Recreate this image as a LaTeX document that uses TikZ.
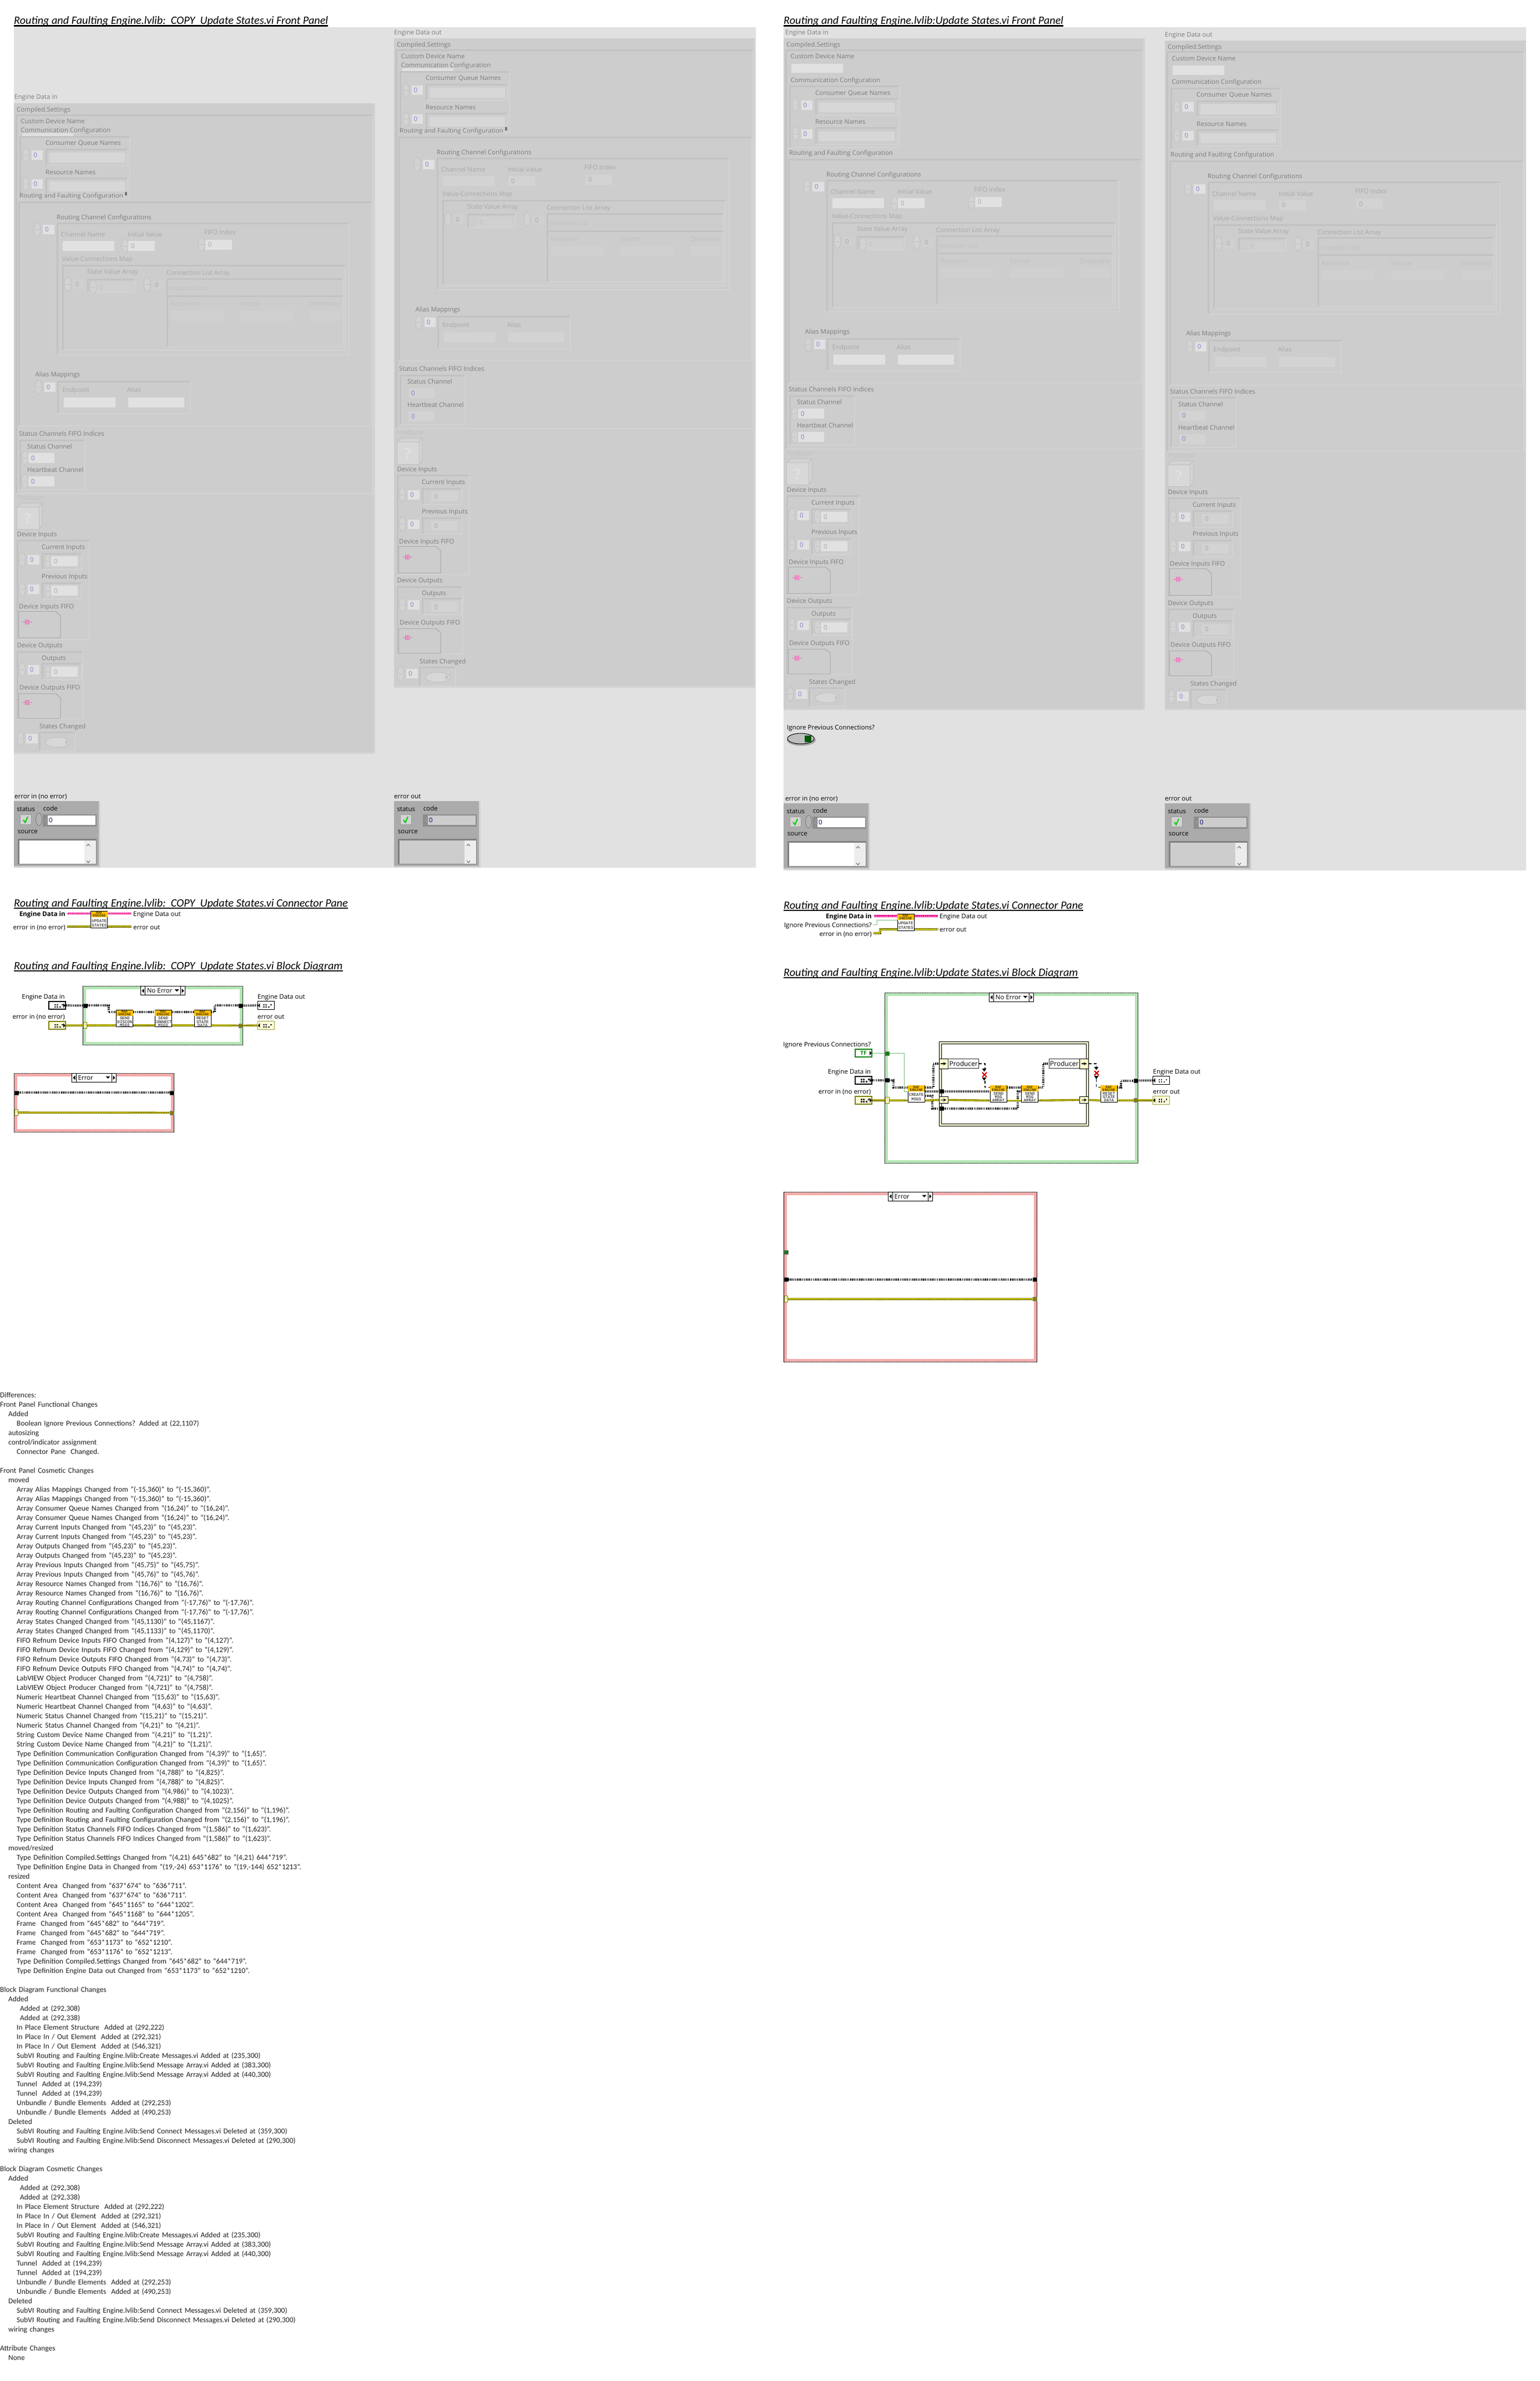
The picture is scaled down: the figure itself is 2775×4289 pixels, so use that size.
\documentclass[tikz,border=0pt]{standalone}
\usepackage{fontspec}
\setmainfont{Carlito}
\newfontfamily\lvfont{Open Sans}
\newfontfamily\pixfont{Liberation Mono}
\usetikzlibrary{patterns}
\definecolor{panelbg}{HTML}{E1E1E1}
\definecolor{fpface}{HTML}{CDCDCD}
\definecolor{fpdarkc}{HTML}{C2C2C2}
\definecolor{fplitec}{HTML}{D3D3D3}
\definecolor{fpdeepc}{HTML}{D0D0D0}
\definecolor{fptexta}{HTML}{7C7C7C}
\definecolor{fptextb}{HTML}{A8A8A8}
\definecolor{fptextc}{HTML}{C0C0C0}
\definecolor{errhead}{HTML}{ABABAB}
\definecolor{casegreen}{HTML}{8CDC8C}
\definecolor{casered}{HTML}{F08080}
\definecolor{ipyellow}{HTML}{FFFFCC}
\definecolor{bandgold}{HTML}{FFC000}
\definecolor{lvolive}{HTML}{808000}
\definecolor{lvgreen}{HTML}{008000}
\colorlet{valbox}{white}
\tikzstyle{fplab} = [font=\lvfont\fontsize{11.5}{14}\selectfont, text=fptexta, inner sep=0pt, anchor=base west]
\tikzstyle{fplabb} = [fplab, text=fptextb]
\tikzstyle{fplabc} = [fplab, text=fptextc]
\tikzstyle{fpidx} = [fplab, text=fptexta!60!blue!70!white]
\tikzstyle{lvleft} = [fplab, text=black]
\tikzstyle{lvright} = [fplab, text=black, anchor=base east]
\tikzstyle{pagehead} = [font=\fontsize{20.2}{22}\selectfont\itshape, inner sep=0pt, anchor=base west]
\tikzstyle{headrule} = [black, line width=2.4pt]
\tikzstyle{fpdark} = [fpdarkc, line width=3pt]
\tikzstyle{fplite} = [fplitec, line width=2pt]
\tikzstyle{fpspin} = [draw=fpdarkc, fill=fplitec, line width=1pt]
\tikzstyle{subvibox} = [rectangle, draw=black, fill=white, line width=1pt, minimum width=30pt, minimum height=30pt, inner sep=0pt]
\tikzstyle{subviband} = [rectangle, fill=bandgold, minimum width=30pt, minimum height=10.6pt, inner sep=0pt, align=center, font=\pixfont\fontsize{6.4}{5}\selectfont]
\tikzstyle{subvitxt} = [inner sep=0pt, align=center, font=\pixfont\fontsize{7.4}{6.3}\selectfont]
\tikzstyle{clwire} = [black, line width=4pt, dash pattern=on 1.6pt off 1.6pt]
\tikzstyle{errwire} = [lvolive, line width=3.6pt, postaction={draw=yellow, line width=2pt}, postaction={draw=black, line width=1pt, dash pattern=on 1.5pt off 1.5pt}]
\tikzstyle{magwire} = [magenta, line width=3.6pt, postaction={draw=white, line width=1pt, dash pattern=on 2pt off 1.4pt}]
\tikzstyle{boolwire} = [lvgreen, line width=1pt, densely dotted]
\tikzstyle{brokenwire} = [black, line width=1.6pt, dash pattern=on 5pt off 4pt]
\tikzstyle{tunblack} = [rectangle, draw=black!70, fill=black, minimum size=7pt, inner sep=0pt]
\tikzstyle{tunolive} = [rectangle, draw=black!50, fill=lvolive, minimum size=7pt, inner sep=0pt]
\tikzstyle{tungreen} = [rectangle, draw=black!50, fill=lvgreen, minimum size=7pt, inner sep=0pt]
\tikzstyle{casequery} = [rectangle, draw=lvolive, fill=ipyellow, minimum width=6.4pt, minimum height=11pt, inner sep=0pt, text=lvolive, font=\lvfont\fontsize{7}{8}\selectfont]
\tikzstyle{termctl} = [rectangle, draw=black, fill=white, line width=2pt, minimum width=30pt, minimum height=13.5pt, inner sep=0pt]
\tikzstyle{termind} = [rectangle, draw=black, fill=white, line width=1pt, minimum width=30.5pt, minimum height=14.5pt, inner sep=0pt]
\tikzstyle{termerrc} = [termctl, draw=lvolive, fill=ipyellow!70!white]
\tikzstyle{termerri} = [termind, draw=lvolive!75!white, fill=ipyellow!70!white]
\tikzstyle{termbool} = [termctl, draw=lvgreen, text=lvgreen, font=\lvfont\bfseries\fontsize{10}{11}\selectfont]
\tikzstyle{ipelem} = [rectangle, draw=black, fill=ipyellow, line width=.8pt, minimum width=15.5pt, inner sep=0pt]
\tikzstyle{prodbox} = [rectangle, draw=black!80, fill=white, line width=.8pt, minimum height=17.5pt, inner sep=0pt, font=\lvfont\fontsize{12}{14}\selectfont]
\newif\ifctrl
\newif\ifoldpanel
\newcounter{fpno}
\newcommand{\fplab}[4][fplab]{\stepcounter{fpno}\node[#1] (fp\arabic{fpno}) at (#2,#3+4) {#4};}
\newcommand{\fpframe}[4]{%
  \draw[fpdark] (#1,#4) -- (#1,#2) -- (#3,#2);
  \draw[fplite] (#3,#2) -- (#3,#4) -- (#1,#4);}
\newcommand{\fpbox}[4]{\fill[valbox] (#1,#2) rectangle (#3,#4);}
\newcommand{\lvspin}[2]{%
  \draw[fpspin] (#1,#2) ellipse (6 and 12.5);
  \draw[fpdarkc, line width=1pt] (#1-5,#2) -- (#1+5,#2);}
\newcommand{\idxbox}[2]{%
  \lvspin{#1}{#2}
  \fill[panelbg] (#1+10,#2-8.5) rectangle (#1+30.5,#2+8.5);
  \fplab[fpidx]{#1+14}{#2}{0}}
\newcommand{\numbox}[4][fplabb]{%
  \ifctrl\lvspin{#2-6}{#3}\fi
  \fill[valbox] (#2,#3-9) rectangle (#4,#3+9);
  \fplab[#1]{#2+5}{#3}{0}}
\newcommand{\fifobox}[3]{%
  \fill[fpface] (8,#1) -- (75,#1) -- (84,#1+8) -- (84,#2) -- (8,#2) -- cycle;
  \draw[black!35, line width=1pt] (75,#1) -- (84,#1+8) -- (84,#2) -- (8,#2);
  \draw[fptextb, line width=1pt] (8,#2) -- (8,#1) -- (75,#1);
  \draw[magenta!65!white, line width=1pt] (16,#3) -- (33,#3);
  \fill[magenta!55!white] (20,#3-4.5) rectangle (29,#3+4.5);
  \foreach \barx in {22,25,28} {\draw[fpface, line width=.7pt] (\barx,#3-4.5) -- (\barx,#3+4.5);}}
\newcommand{\engineCluster}[3]{%
  \ifoldpanel\def\dcomm{0}\def\drout{0}\def\dlow{0}\else\def\dcomm{26.5}\def\drout{40}\def\dlow{37}\fi
  \begin{scope}[shift={(#1,#2)}]
    \fill[fpface] (0,0) rectangle (649,#3);
    \draw[fplitec, line width=3pt] (0,#3) -- (649,#3) -- (649,0);
    \fpframe{4}{21}{647}{703+\dlow}
    \fplab{5}{11.5}{Compiled.Settings}
    \fplab{12.5}{32.5}{Custom Device Name}
    \ifoldpanel\fill[panelbg] (15,53.5) rectangle (107,60.6);\else\fill[panelbg] (14,45.5) rectangle (106.6,62);\fi
    \begin{scope}[shift={(0,\dcomm)}]
      \fplab{12.5}{48.5}{Communication Configuration}
      \fpframe{11}{60}{209}{170}
      \fplab{57}{71.5}{Consumer Queue Names}
      \idxbox{21.5}{93.5}
      \fpframe{58}{83}{205}{112}
      \fill[fplitec!70!panelbg] (64,89) rectangle (200,106.5);
      \fplab{57}{124}{Resource Names}
      \idxbox{21.5}{145.5}
      \fpframe{58}{135}{205}{164}
      \fill[fplitec!70!panelbg] (64,141) rectangle (200,158.5);
    \end{scope}
    \ifoldpanel\fill[black!55] (200,160) rectangle (204,166);\fi
    \begin{scope}[shift={(0,\drout)}]
      \fplab{10}{166}{Routing and Faulting Configuration}
      \fpframe{9}{178}{645}{581}
      \fplab{77}{205}{Routing Channel Configurations}
      \idxbox{42}{227.5}
      \fpframe{78}{216}{604}{453}
      \fplab[fplabb]{85}{236.6}{Channel Name}
      \fpbox{87.5}{248}{181}{266}
      \fplab[fplabb]{205}{236.6}{Initial Value}
      \numbox{206}{257}{254}
      \fplab[fplabb]{343}{232}{FIFO Index}
      \numbox{344.6}{254.5}{393}
      \fplab[fplabb]{86.6}{280.6}{Value-Connections Map}
      \fpframe{88.4}{292.7}{597}{444.5}
      \fplab[fplabb]{132}{303.6}{State Value Array}
      \fplab[fplabb]{275}{305.5}{Connection List Array}
      \lvspin{97}{326}
      \fill[fpdeepc] (107,318) rectangle (127,334);
      \fplab[fplabb]{111}{326}{0}
      \fpframe{133}{317}{218}{340.5}
      \colorlet{valbox}{fpdeepc}
      \numbox[fplabc]{149}{331}{214}
      \lvspin{240}{326.5}
      \fill[fpdeepc] (250,319.5) rectangle (270.5,336);
      \fplab[fplabb]{254}{327.5}{0}
      \fpframe{276.8}{316}{593}{439}
      \draw[fpdark] (276.8,347) -- (593,347);
      \fplab[fplabc]{281}{333.5}{nnection List}
      \fplab[fplabc]{282}{361.6}{Resource}
      \fplab[fplabc]{407}{361.6}{Source}
      \fplab[fplabc]{533}{361.6}{Destinatio}
      \fill[fpdeepc] (283,374) rectangle (377,391.6);
      \fill[fpdeepc] (408,374) rectangle (503.6,391.6);
      \fill[fpdeepc] (535,374) rectangle (587.5,391.6);
    \end{scope}
    \begin{scope}[shift={(0,\drout)}]
      \fplab{38.4}{488}{Alias Mappings}
      \idxbox{44.6}{511.5}
      \fpframe{79.5}{501}{318}{558.7}
      \fplab[fplabb]{87.5}{516.6}{Endpoint}
      \fplab[fplabb]{203.6}{516.6}{Alias}
      \fpbox{90}{530}{183}{548}
      \fpbox{206}{530}{307}{548}
    \end{scope}
    \begin{scope}[shift={(0,\dlow)}]
      \fplab{9}{595.7}{Status Channels FIFO Indices}
      \fpframe{11}{607}{127.7}{696.4}
      \fplab{24}{618.6}{Status Channel}
      \numbox[fpidx]{26}{639}{73}
      \fplab{24}{660.7}{Heartbeat Channel}
      \numbox[fpidx]{26}{681}{73}
      \fplab[fplabc]{5.4}{710.5}{Producer}
      \fill[fplitec, draw=fptextc, line width=1pt] (5.4,727.7) -- (13,720) -- (51,720) -- (45,727.7) -- cycle;
      \fill[fplitec, draw=fptextc, line width=1pt] (45,727.7) -- (51,720) -- (51,760) -- (45,767) -- cycle;
      \fill[fplitec!60!panelbg, draw=fptextc, line width=1pt] (5.4,727.7) rectangle (45,767);
      \node[font=\lvfont\bfseries\fontsize{26}{28}\selectfont, text=panelbg, inner sep=0pt] (fpquery\arabic{fpno}) at (25,748) {?};
      \fplab{5.4}{776.8}{Device Inputs}
      \fpframe{6}{787.6}{136}{966}
      \fplab{50}{799.8}{Current Inputs}
      \idxbox{15}{822}
      \fpframe{51}{811}{122}{840}
      \numbox{67}{825}{115}
      \fplab{50}{852}{Previous Inputs}
      \idxbox{15}{875}
      \fpframe{51}{864}{122}{893}
      \numbox{67}{878}{115}
      \fplab{9}{906}{Device Inputs FIFO}
      \fifobox{915}{963}{934}
      \fplab{5.4}{976.4}{Device Outputs}
      \fpframe{6}{988}{124}{1109}
      \fplab{50}{999.4}{Outputs}
      \idxbox{15}{1020}
      \fpframe{51}{1009}{122}{1038}
      \numbox{67}{1024}{115}
      \fplab{10}{1052}{Device Outputs FIFO}
      \fifobox{1063}{1108}{1079}
      \fplab{46}{1122}{States Changed}
      \idxbox{12}{1144.5}
      \fpframe{46}{1133}{111}{1167}
      \fill[fplitec!70!panelbg, draw=fptextc, line width=1pt] (79,1151) ellipse (22 and 9);
      \fill[fptextc] (93,1146) -- (98,1151) -- (93,1156) -- cycle;
    \end{scope}
  \end{scope}}
\newcommand{\errCluster}[2]{%
  \begin{scope}[shift={(#1,#2)}]
    \fill[errhead] (0,0) rectangle (153,118);
    \draw[fplitec, line width=3pt] (0,118.5) -- (154,118.5) -- (154,0);
    \fplab[lvleft]{5.3}{14.3}{status}
    \fplab[lvleft]{52.7}{13.7}{code}
    \fill[fplitec, draw=black!40, line width=1pt] (11.7,24.7) rectangle (31,42.7);
    \draw[green!80!black, line width=2pt] (17,34) -- (20.5,38.5) -- (25,28);
    \ifctrl\draw[fpspin, draw=black!50, fill=black!30] (45,33) ellipse (5.5 and 11.5);\fi
    \fill[black!45] (51.7,24.4) rectangle (149,46.3);
    \fill[valbox] (61,26) rectangle (147,42.7);
    \fplab[fplabb]{55.5}{34}{d}
    \fplab[fpidx, text=blue!40!black]{63}{34}{0}
    \fplab[lvleft]{6.7}{54.7}{source}
    \fill[black!50] (7.3,67.7) rectangle (149,114.3);
    \fill[valbox] (10,71) rectangle (147.7,112.7);
    \fill[panelbg!60!white] (127,71) rectangle (147.7,112.7);
    \draw[black!60, line width=1pt] (131,81) -- (134,77.5) -- (137,81);
    \draw[black!60, line width=1pt] (131,107.5) -- (134,111) -- (137,107.5);
  \end{scope}}
\newcommand{\subvi}[4]{%
  \begin{scope}[shift={(#2,#3)}]
    \node[subvibox] (#1) at (15.5,15.5) {};
    \node[subviband] (#1-band) at (15.5,5.8) {RAF\\ENGINE};
    \node[subvitxt] (#1-txt) at (15.5,21.3) {#4};
    \coordinate (#1-tl) at (0,4);
    \coordinate (#1-tr) at (31,4);
    \coordinate (#1-ml) at (0,11.5);
    \coordinate (#1-mr) at (31,11.5);
    \coordinate (#1-lr) at (31,19);
    \coordinate (#1-bl) at (0,27.7);
    \coordinate (#1-br) at (31,27.7);
  \end{scope}}
\newcommand{\caseframe}[5]{%
  \draw[black, line width=1pt, fill=#5] (#1,#2) rectangle (#3,#4);
  \fill[pattern=north east lines, pattern color=white] (#1,#2) rectangle (#3,#4);
  \fill[white] (#1+5.5,#2+5.5) rectangle (#3-5.5,#4-5.5);}
\newcommand{\caseselect}[4]{%
  \begin{scope}[shift={(#2,#3)}]
    \draw[black, line width=1pt, fill=white] (0,0) rectangle (80,16);
    \draw[black, line width=1pt] (8,0) -- (8,16) (72,0) -- (72,16);
    \fill[black] (2,8) -- (6,4) -- (6,12) -- cycle;
    \fill[black] (78,8) -- (74,4) -- (74,12) -- cycle;
    \fill[black] (61,5.5) -- (69,5.5) -- (65,9.5) -- cycle;
    \node[lvleft] (#1) at (11,12) {#4};
  \end{scope}}
\newcommand{\lvterm}[5]{%
  \begin{scope}[shift={(#2,#3)}]
    \node[#4] (#1) at (16,7.7) {};
    \foreach \dotx/\doty in {11/5,15/5,11/9,15/9,20/9,24/5} {\fill[black!80] (\dotx,\doty) rectangle +(2.6,2.6);}
    \ifnum#5=0 \fill[black] (27,3.7) -- (30.5,7.7) -- (27,11.7) -- cycle;\else\fill[black] (5,3.7) -- (1.5,7.7) -- (5,11.7) -- cycle;\fi
  \end{scope}}
\newcommand{\brokenmark}[2]{%
  \fill[black] (#1-4.5,#2-11) -- (#1+3.5,#2-11) -- (#1-.5,#2-5.5) -- cycle;
  \fill[black] (#1-4.5,#2+5) -- (#1+3.5,#2+5) -- (#1-.5,#2+11) -- cycle;
  \draw[red!85!black, line width=2.2pt] (#1-4,#2-4) -- (#1+4,#2+4) (#1-4,#2+4) -- (#1+4,#2-4);}
\newcommand{\lva}{\hspace*{15pt}}
\newcommand{\lvb}{\hspace*{30pt}}
\newcommand{\lvc}{\hspace*{36pt}}
\newcommand{\bdchanges}{%
\lva Added\\
\lvc Added at (292,308)\\
\lvc Added at (292,338)\\
\lvb In Place Element Structure~~Added at (292,222)\\
\lvb In Place In / Out Element~~Added at (292,321)\\
\lvb In Place In / Out Element~~Added at (546,321)\\
\lvb SubVI Routing and Faulting Engine.lvlib:Create Messages.vi Added at (235,300)\\
\lvb SubVI Routing and Faulting Engine.lvlib:Send Message Array.vi Added at (383,300)\\
\lvb SubVI Routing and Faulting Engine.lvlib:Send Message Array.vi Added at (440,300)\\
\lvb Tunnel~~Added at (194,239)\\
\lvb Tunnel~~Added at (194,239)\\
\lvb Unbundle / Bundle Elements~~Added at (292,253)\\
\lvb Unbundle / Bundle Elements~~Added at (490,253)\\
\lva Deleted\\
\lvb SubVI Routing and Faulting Engine.lvlib:Send Connect Messages.vi Deleted at (359,300)\\
\lvb SubVI Routing and Faulting Engine.lvlib:Send Disconnect Messages.vi Deleted at (290,300)\\
\lva wiring changes\\[17pt]}

\begin{document}
\begin{tikzpicture}[x=1pt,y=-1pt,>=stealth]
  \useasboundingbox (0,0) rectangle (2775,4289);

  \node[pagehead] (headFpA) at (25,43.5) {Routing and Faulting Engine.lvlib:~~COPY~~Update States.vi Front Panel};
  \node[pagehead] (headFpB) at (1412,43.5) {Routing and Faulting Engine.lvlib:Update States.vi Front Panel};
  \node[pagehead] (headCpA) at (25,1633) {Routing and Faulting Engine.lvlib:~~COPY~~Update States.vi Connector Pane};
  \node[pagehead] (headBdA) at (25,1746) {Routing and Faulting Engine.lvlib:~~COPY~~Update States.vi Block Diagram};
  \node[pagehead] (headCpB) at (1412,1637) {Routing and Faulting Engine.lvlib:Update States.vi Connector Pane};
  \node[pagehead] (headBdB) at (1412,1758) {Routing and Faulting Engine.lvlib:Update States.vi Block Diagram};
  \foreach \headname in {headFpA,headFpB,headCpA,headBdA,headCpB,headBdB} {
    \draw[headrule] ([yshift=-3pt]\headname.base west) -- ([yshift=-3pt]\headname.base east);
  }

  \fill[panelbg] (25,49) rectangle (1362,1563);
  \fill[panelbg] (1412,49) rectangle (2750,1568);

  \oldpaneltrue
  \ctrltrue\colorlet{valbox}{panelbg}
  \fplab[fplab]{26}{174.5}{Engine Data in}
  \engineCluster{25}{186}{1170}
  \ctrlfalse\colorlet{valbox}{fplitec}
  \fplab[fplab]{710}{58}{Engine Data out}
  \engineCluster{710}{69}{1168}
  \oldpanelfalse
  \ctrltrue\colorlet{valbox}{panelbg}
  \fplab[fplab]{1415}{58}{Engine Data in}
  \engineCluster{1412}{69}{1208}
  \ctrlfalse\colorlet{valbox}{fplitec}
  \fplab[fplab]{2099}{62}{Engine Data out}
  \engineCluster{2099}{72.7}{1205}

  \fplab[lvleft]{1418}{1310.6}{Ignore Previous Connections?}
  \fill[black!35] (1444,1333) ellipse (26 and 10.5);
  \draw[black, line width=1pt, fill=black!25] (1443,1330.5) ellipse (24 and 9.5);
  \fill[green!35!black] (1450,1325) rectangle (1462,1337);

  \ctrltrue\colorlet{valbox}{white}
  \fplab[lvleft]{26}{1434}{error in (no error)}
  \errCluster{25}{1443}
  \fplab[lvleft]{1415}{1438}{error in (no error)}
  \errCluster{1412}{1447}
  \ctrlfalse\colorlet{valbox}{fpface}
  \fplab[lvleft]{710}{1434}{error out}
  \errCluster{710}{1443}
  \fplab[lvleft]{2099}{1438}{error out}
  \errCluster{2099}{1447}

  \subvi{paneIconA}{163.4}{1641.3}{UPDATE\\[1.7pt]STATES}
  \node[lvright, font=\lvfont\bfseries\fontsize{11.5}{14}\selectfont] (cpEdInA) at (118,1650) {Engine Data in};
  \node[lvright] (cpErrInA) at (118,1674) {error in (no error)};
  \node[lvleft] (cpEdOutA) at (240,1650) {Engine Data out};
  \node[lvleft] (cpErrOutA) at (240,1674) {error out};
  \coordinate (cpA1) at (121.4,1645.3);
  \coordinate (cpA2) at (237,1645.3);
  \coordinate (cpA3) at (121.4,1669);
  \coordinate (cpA4) at (237,1669);
  \draw[magwire] (cpA1) -- (paneIconA-tl);
  \draw[magwire] (paneIconA-tr) -- (cpA2);
  \draw[errwire] (cpA3) -- (paneIconA-bl);
  \draw[errwire] (paneIconA-br) -- (cpA4);

  \subvi{paneIconB}{1616.7}{1646}{UPDATE\\[1.7pt]STATES}
  \node[lvright, font=\lvfont\bfseries\fontsize{11.5}{14}\selectfont] (cpEdInB) at (1571,1654) {Engine Data in};
  \node[lvright] (cpIgnB) at (1571,1670) {Ignore Previous Connections?};
  \node[lvright] (cpErrInB) at (1571,1686.4) {error in (no error)};
  \node[lvleft] (cpEdOutB) at (1693,1654) {Engine Data out};
  \node[lvleft] (cpErrOutB) at (1693,1678) {error out};
  \coordinate (cpB1) at (1574.6,1650);
  \coordinate (cpB2) at (1690,1650);
  \coordinate (cpB3) at (1573.7,1665.8);
  \coordinate (cpB4) at (1573.7,1681);
  \coordinate (cpB5) at (1690,1673.7);
  \draw[magwire] (cpB1) -- (paneIconB-tl);
  \draw[magwire] (paneIconB-tr) -- (cpB2);
  \draw[boolwire] (cpB3) -- (1580,1665.8) -- (1580,1657.6) -- (paneIconB-ml);
  \draw[errwire] (cpB4) -- (1586,1681) -- (1586,1673.7) -- (paneIconB-bl);
  \draw[errwire] (paneIconB-br) -- (cpB5);

  \caseframe{149.6}{1776.7}{437.5}{1882.7}{casegreen}
  \caseselect{selNoErrA}{253.6}{1776.7}{No Error}
  \node[lvright] (bdEdInA) at (117,1799) {Engine Data in};
  \node[lvright] (bdErrInA) at (117,1835) {error in (no error)};
  \node[lvleft] (bdEdOutA) at (464,1799) {Engine Data out};
  \node[lvleft] (bdErrOutA) at (464,1835) {error out};
  \lvterm{termEdA}{87}{1803.5}{termctl}{0}
  \lvterm{termErrA}{87}{1839.5}{termerrc}{0}
  \lvterm{termEdOA}{463.4}{1803.5}{termind}{1}
  \lvterm{termErrOA}{463.4}{1839.5}{termerri}{1}
  \node[tunblack] (tunEdA) at (153.5,1811.3) {};
  \node[casequery] (tunSelA) at (153.2,1847) {?};
  \node[tunblack] (tunEdOA) at (433.5,1811.3) {};
  \node[tunolive] (tunErrOA) at (433.5,1847.3) {};
  \subvi{discon}{209.4}{1819.3}{SEND\\DISCON\\MSGS}
  \subvi{connect}{278.6}{1819.3}{SEND\\CONNECT\\MSGS}
  \subvi{resetA}{349.6}{1819.3}{RESET\\STATE\\DATA}
  \draw[clwire] (termEdA.east) -- (tunEdA.west);
  \draw[clwire] (tunEdA.east) -- (196,1811.3) -- (196,1823.3) -- (discon-tl);
  \draw[clwire] (discon-tr) -- (connect-tl);
  \draw[clwire] (connect-tr) -- (resetA-tl);
  \draw[clwire] (resetA-tr) -- (386.6,1823.3) -- (386.6,1811.3) -- (tunEdOA.west);
  \draw[clwire] (tunEdOA.east) -- (termEdOA.west);
  \draw[errwire] (termErrA.east) -- (tunSelA.west);
  \draw[errwire] (tunSelA.east) -- (discon-bl);
  \draw[errwire] (discon-br) -- (connect-bl);
  \draw[errwire] (connect-br) -- (resetA-bl);
  \draw[errwire] (resetA-br) -- (tunErrOA.west);
  \draw[errwire] (tunErrOA.east) -- (termErrOA.west);

  \caseframe{25.4}{1933.3}{313.4}{2039.3}{casered}
  \caseselect{selErrA}{129.5}{1933.3}{Error}
  \node[tunblack] (tunEdC) at (29.4,1968.3) {};
  \node[tunblack] (tunEdD) at (309.4,1968.3) {};
  \node[casequery] (tunSelC) at (29,2004) {?};
  \node[tunolive] (tunErrD) at (309.4,2004.3) {};
  \draw[clwire] (tunEdC.east) -- (tunEdD.west);
  \draw[errwire] (tunSelC.east) -- (tunErrD.west);

  \caseframe{1594.4}{1788.5}{2050.5}{2095.6}{casegreen}
  \caseselect{selNoErrB}{1782.7}{1788.5}{No Error}
  \draw[black, line width=1pt, fill=ipyellow] (1692.3,1876.4) rectangle (1961.7,2028.7);
  \draw[black, line width=1pt, fill=white] (1696.4,1880.5) rectangle (1957.7,2024.6);
  \node[lvright] (bdIgnB) at (1569.4,1885) {Ignore Previous Connections?};
  \node[lvright] (bdEdInB) at (1569.4,1934) {Engine Data in};
  \node[lvright] (bdErrInB) at (1569.4,1970) {error in (no error)};
  \node[lvleft] (bdEdOutB) at (2077.5,1934) {Engine Data out};
  \node[lvleft] (bdErrOutB) at (2077.5,1970) {error out};
  \node[termbool] (termTF) at (1556,1897) {TF};
  \fill[black] (1567,1893) -- (1570.5,1897) -- (1567,1901) -- cycle;
  \lvterm{termEdB}{1540.3}{1938.3}{termctl}{0}
  \lvterm{termErrB}{1540.3}{1974.3}{termerrc}{0}
  \lvterm{termEdOB}{2076.5}{1938.5}{termind}{1}
  \lvterm{termErrOB}{2076.5}{1974.3}{termerri}{1}
  \node[tungreen] (tunTF) at (1599,1897.4) {};
  \node[tunblack] (tunEdB) at (1599,1946) {};
  \node[casequery] (tunSelB) at (1598.5,1982) {?};
  \node[tunblack] (tunEdOB) at (2046.4,1946.5) {};
  \node[tunolive] (tunErrOB) at (2046.4,1982) {};
  \subvi{createMsgs}{1635.7}{1954.6}{CREATE\\[1.7pt]MSGS}
  \subvi{sendA}{1783.7}{1954.6}{SEND\\MSG\\ARRAY}
  \subvi{sendB}{1840.3}{1954.6}{SEND\\MSG\\ARRAY}
  \subvi{resetB}{1982.7}{1954.6}{RESET\\STATE\\DATA}
  \node[ipelem, minimum height=18pt] (prodInL) at (1700.3,1916) {};
  \node[prodbox, minimum width=55pt] (prodTxtL) at (1736.2,1916) {Producer};
  \node[prodbox, minimum width=55pt] (prodTxtR) at (1917.8,1916) {Producer};
  \node[ipelem, minimum height=18pt] (prodInR) at (1953.5,1916) {};
  \node[ipelem, minimum height=12pt] (elemL) at (1700.3,1981.3) {};
  \node[ipelem, minimum height=12pt] (elemR) at (1953.5,1981.3) {};
  \foreach \elemname in {prodInL,prodInR,elemL,elemR} {
    \draw[-stealth, black, line width=1.5pt] ([xshift=-5pt]\elemname.center) -- ([xshift=5pt]\elemname.center);
  }
  \node[tunblack] (tunIpA) at (1696.4,1966) {};
  \node[tunblack] (tunIpB) at (1696.4,1996.5) {};
  \draw[clwire] (termEdB.east) -- (tunEdB.west);
  \draw[clwire] (tunEdB.east) -- (1610,1946) -- (1610,1958.6) -- (createMsgs-tl);
  \draw[clwire] (createMsgs-tr) -- (1681.6,1958.6) -- (1681.6,1916) -- (prodInL.west);
  \draw[clwire] (createMsgs-mr) -- (tunIpA.west);
  \draw[clwire] (tunIpA.east) -- (sendA-ml);
  \draw[clwire] (createMsgs-lr) -- (1679.6,1973.6) -- (1679.6,1996.5) -- (tunIpB.west);
  \draw[clwire] (tunIpB.east) -- (1833.7,1996.5) -- (1833.7,1966.1) -- (sendB-ml);
  \draw[clwire] (sendA-tr) -- (sendB-tl);
  \draw[clwire] (sendB-tr) -- (1879.6,1958.6) -- (1879.6,1916) -- (prodTxtR.west);
  \draw[clwire] (resetB-tr) -- (2020.4,1958.6) -- (2020.4,1946.5) -- (tunEdOB.west);
  \draw[clwire] (tunEdOB.east) -- (termEdOB.west);
  \draw[errwire] (termErrB.east) -- (tunSelB.west);
  \draw[errwire] (tunSelB.east) -- (createMsgs-bl);
  \draw[errwire] (createMsgs-br) -- (elemL.west);
  \draw[errwire] (elemL.east) -- (sendA-bl);
  \draw[errwire] (sendA-br) -- (sendB-bl);
  \draw[errwire] (sendB-br) -- (elemR.west);
  \draw[errwire] (elemR.east) -- (resetB-bl);
  \draw[errwire] (resetB-br) -- (tunErrOB.west);
  \draw[errwire] (tunErrOB.east) -- (termErrOB.west);
  \draw[boolwire] (termTF.east) -- (tunTF.west);
  \draw[boolwire] (tunTF.east) -- (1629.6,1897.4) -- (1629.6,1966.1) -- (createMsgs-ml);
  \draw[brokenwire] (prodTxtL.east) -- (1775,1916) -- (1775,1925);
  \draw[brokenwire] (1775,1947) -- (1775,1958.6) -- (sendA-tl);
  \draw[brokenwire] (prodInR.east) -- (1975.5,1916) -- (1975.5,1922);
  \draw[brokenwire] (1975.5,1944) -- (1975.5,1958.6) -- (resetB-tl);
  \brokenmark{1774}{1935.8}
  \brokenmark{1976}{1933}

  \caseframe{1412.8}{2147}{1868.4}{2453.2}{casered}
  \caseselect{selErrB}{1600.5}{2147}{Error}
  \node[tungreen] (tunTFe) at (1416.5,2255.5) {};
  \node[tunblack] (tunEdE) at (1416.3,2304.5) {};
  \node[tunblack] (tunEdF) at (1864.3,2304.5) {};
  \node[casequery] (tunSelE) at (1416.2,2340) {?};
  \node[tunolive] (tunErrF) at (1864.3,2340) {};
  \draw[clwire] (tunEdE.east) -- (tunEdF.west);
  \draw[errwire] (tunSelE.east) -- (tunErrF.west);

  \node[inner sep=0pt, anchor=north west, text width=900pt, align=left, text=black!88, font=\fontsize{13.45}{17}\selectfont] (diffList) at (0,2508) {%
Differences:\\
Front Panel Functional Changes\\
\lva Added\\
\lvb Boolean Ignore Previous Connections? Added at (22,1107)\\
\lva autosizing\\
\lva control/indicator assignment\\
\lvb Connector Pane~~Changed.\\[17pt]
Front Panel Cosmetic Changes\\
\lva moved\\
\lvb Array Alias Mappings Changed from "(-15,360)" to "(-15,360)".\\
\lvb Array Alias Mappings Changed from "(-15,360)" to "(-15,360)".\\
\lvb Array Consumer Queue Names Changed from "(16,24)" to "(16,24)".\\
\lvb Array Consumer Queue Names Changed from "(16,24)" to "(16,24)".\\
\lvb Array Current Inputs Changed from "(45,23)" to "(45,23)".\\
\lvb Array Current Inputs Changed from "(45,23)" to "(45,23)".\\
\lvb Array Outputs Changed from "(45,23)" to "(45,23)".\\
\lvb Array Outputs Changed from "(45,23)" to "(45,23)".\\
\lvb Array Previous Inputs Changed from "(45,75)" to "(45,75)".\\
\lvb Array Previous Inputs Changed from "(45,76)" to "(45,76)".\\
\lvb Array Resource Names Changed from "(16,76)" to "(16,76)".\\
\lvb Array Resource Names Changed from "(16,76)" to "(16,76)".\\
\lvb Array Routing Channel Configurations Changed from "(-17,76)" to "(-17,76)".\\
\lvb Array Routing Channel Configurations Changed from "(-17,76)" to "(-17,76)".\\
\lvb Array States Changed Changed from "(45,1130)" to "(45,1167)".\\
\lvb Array States Changed Changed from "(45,1133)" to "(45,1170)".\\
\lvb FIFO Refnum Device Inputs FIFO Changed from "(4,127)" to "(4,127)".\\
\lvb FIFO Refnum Device Inputs FIFO Changed from "(4,129)" to "(4,129)".\\
\lvb FIFO Refnum Device Outputs FIFO Changed from "(4,73)" to "(4,73)".\\
\lvb FIFO Refnum Device Outputs FIFO Changed from "(4,74)" to "(4,74)".\\
\lvb LabVIEW Object Producer Changed from "(4,721)" to "(4,758)".\\
\lvb LabVIEW Object Producer Changed from "(4,721)" to "(4,758)".\\
\lvb Numeric Heartbeat Channel Changed from "(15,63)" to "(15,63)".\\
\lvb Numeric Heartbeat Channel Changed from "(4,63)" to "(4,63)".\\
\lvb Numeric Status Channel Changed from "(15,21)" to "(15,21)".\\
\lvb Numeric Status Channel Changed from "(4,21)" to "(4,21)".\\
\lvb String Custom Device Name Changed from "(4,21)" to "(1,21)".\\
\lvb String Custom Device Name Changed from "(4,21)" to "(1,21)".\\
\lvb Type Definition Communication Configuration Changed from "(4,39)" to "(1,65)".\\
\lvb Type Definition Communication Configuration Changed from "(4,39)" to "(1,65)".\\
\lvb Type Definition Device Inputs Changed from "(4,788)" to "(4,825)".\\
\lvb Type Definition Device Inputs Changed from "(4,788)" to "(4,825)".\\
\lvb Type Definition Device Outputs Changed from "(4,986)" to "(4,1023)".\\
\lvb Type Definition Device Outputs Changed from "(4,988)" to "(4,1025)".\\
\lvb Type Definition Routing and Faulting Configuration Changed from "(2,156)" to "(1,196)".\\
\lvb Type Definition Routing and Faulting Configuration Changed from "(2,156)" to "(1,196)".\\
\lvb Type Definition Status Channels FIFO Indices Changed from "(1,586)" to "(1,623)".\\
\lvb Type Definition Status Channels FIFO Indices Changed from "(1,586)" to "(1,623)".\\
\lva moved/resized\\
\lvb Type Definition Compiled.Settings Changed from "(4,21) 645*682" to "(4,21) 644*719".\\
\lvb Type Definition Engine Data in Changed from "(19,-24) 653*1176" to "(19,-144) 652*1213".\\
\lva resized\\
\lvb Content Area~~Changed from "637*674" to "636*711".\\
\lvb Content Area~~Changed from "637*674" to "636*711".\\
\lvb Content Area~~Changed from "645*1165" to "644*1202".\\
\lvb Content Area~~Changed from "645*1168" to "644*1205".\\
\lvb Frame~~Changed from "645*682" to "644*719".\\
\lvb Frame~~Changed from "645*682" to "644*719".\\
\lvb Frame~~Changed from "653*1173" to "652*1210".\\
\lvb Frame~~Changed from "653*1176" to "652*1213".\\
\lvb Type Definition Compiled.Settings Changed from "645*682" to "644*719".\\
\lvb Type Definition Engine Data out Changed from "653*1173" to "652*1210".\\[17pt]
Block Diagram Functional Changes\\
\bdchanges
Block Diagram Cosmetic Changes\\
\bdchanges
Attribute Changes\\
\lva None
};
\end{tikzpicture}
\end{document}
